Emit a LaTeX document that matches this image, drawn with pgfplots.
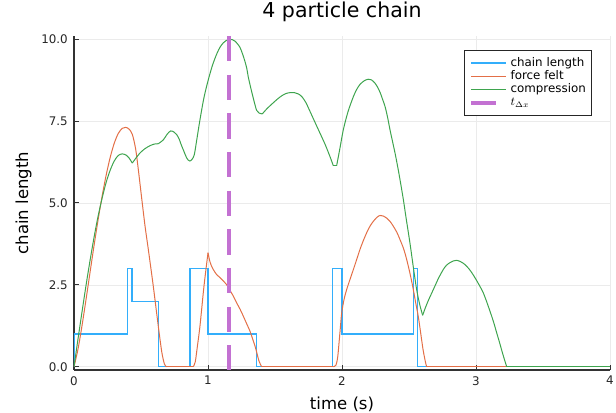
\documentclass[border=0pt]{standalone}
\usepackage{fontspec}
\setmainfont{DejaVu Sans}
\usepackage{pgfplots}
\pgfplotsset{compat=1.18}
\usetikzlibrary{calc}
\definecolor{jblue}{HTML}{009AFA}
\definecolor{jorange}{HTML}{E36F47}
\definecolor{jgreen}{HTML}{3EA44E}
\definecolor{jpurple}{HTML}{C371D2}
\pgfplotsset{
  bstyle/.style={jblue!80, line width=1pt},
  ostyle/.style={jorange, line width=0.75pt},
  gstyle/.style={jgreen, line width=0.75pt},
  sm/.style={smooth, tension=0.5},
}
\begin{document}
\begin{tikzpicture}
\begin{axis}[
  scale only axis, width=402pt, height=250.5pt,
  xmin=0, xmax=4, ymin=-0.1, ymax=10.1,
  axis x line*=bottom, axis y line*=left,
  axis line style={-, black!80, line width=0.9pt},
  xtick={0,1,2,3,4}, xticklabels={0,1,2,3,4},
  ytick={0,2.5,5,7.5,10}, yticklabels={0.0,2.5,5.0,7.5,10.0},
  /pgf/number format/assume math mode=true,
  tick align=inside, major tick length=3.5pt,
  tick style={black!80, line width=0.75pt},
  grid=major, major grid style={black!8, line width=0.5pt},
  ticklabel style={font=\fontsize{8.9}{10}\selectfont, text=black!85},
  xticklabel style={inner sep=0pt, yshift=-4.5pt},
  yticklabel style={inner sep=0pt, xshift=-4.5pt},
  title={4 particle chain},
  title style={at={(axis description cs:0.5,1.03)}, anchor=base, inner sep=0pt, font=\fontsize{15.4}{18}\selectfont},
  xlabel={time (s)},
  xlabel style={at={(axis description cs:0.5,-0.1168)}, anchor=base, inner sep=0pt, font=\fontsize{12.4}{14}\selectfont},
  ylabel={chain length},
  ylabel style={at={(axis description cs:-0.0858,0.5)}, anchor=base, inner sep=0pt, font=\fontsize{12.4}{14}\selectfont},
  legend style={at={(0.966,0.958)}, anchor=north east, draw=black!85, line width=0.7pt, fill=white,
    font=\fontsize{8.9}{10}\selectfont, inner xsep=3.5pt, inner ysep=4.5pt,
    nodes={inner sep=0.6pt, text height=6.8pt, text depth=1.9pt},
    /tikz/every odd column/.append style={column sep=2.5pt}},
  legend cell align=left,
  legend image code/.code={\draw[#1] (0pt,0pt) -- (26pt,0pt);},
]
% ---------------- chain length
\addplot[bstyle] coordinates {
(0,0) (0,1) (0.398,1) (0.398,3) (0.433,3) (0.433,2) (0.632,2) (0.632,0)
(0.866,0) (0.866,3) (1.0,3) (1.0,1) (1.363,1) (1.363,0) (1.93,0) (1.93,3)
(2.0,3) (2.0,1) (2.532,1) (2.532,3) (2.565,3) (2.565,0) (2.65,0)
};
\addlegendentry{chain length}
% ---------------- force felt
\addplot[ostyle, sm] coordinates {
(0,0) (0.03,0.54) (0.06,1.26) (0.09,2.06) (0.12,2.89) (0.15,3.71) (0.18,4.49) (0.21,5.21)
(0.24,5.85) (0.27,6.39) (0.30,6.82) (0.33,7.12) (0.36,7.28) (0.385,7.31) (0.41,7.26) (0.435,7.1)
(0.46,6.65) (0.48,6.02) (0.505,5.15) (0.53,4.3) (0.554,3.6) (0.592,2.45) (0.629,1.24)
(0.655,0.45) (0.675,0.08) (0.69,0)
};
\addlegendentry{force felt}
\addplot[ostyle, forget plot] coordinates {(0.69,0) (0.89,0)};
\addplot[ostyle, sm, forget plot] coordinates {
(0.89,0) (0.905,0.15) (0.92,0.6) (0.94,1.24) (0.97,2.46) (1.0,3.48)
};
\addplot[ostyle, sm, forget plot] coordinates {
(1.0,3.48) (1.015,3.2) (1.035,3.0) (1.065,2.81) (1.09,2.72) (1.114,2.62) (1.14,2.5) (1.164,2.33)
(1.19,2.15) (1.214,1.95) (1.24,1.75) (1.264,1.54) (1.29,1.3) (1.313,1.09) (1.333,0.85)
(1.351,0.63) (1.366,0.4) (1.38,0.18) (1.40,0)
};
\addplot[ostyle, forget plot] coordinates {(1.40,0) (1.935,0)};
\addplot[ostyle, sm, forget plot] coordinates {
(1.935,0) (1.955,0.05) (1.968,0.3) (1.98,0.83) (1.99,1.3) (1.998,1.65) (2.015,2.05) (2.035,2.36)
(2.06,2.67) (2.085,2.97) (2.11,3.28) (2.134,3.58) (2.16,3.86) (2.184,4.09) (2.21,4.3) (2.234,4.44)
(2.26,4.56) (2.284,4.62) (2.31,4.6) (2.333,4.54) (2.36,4.43) (2.383,4.29) (2.41,4.1) (2.433,3.88)
(2.46,3.6) (2.483,3.27) (2.51,2.8) (2.532,2.36) (2.55,1.95) (2.569,1.54) (2.583,1.15) (2.594,0.83)
(2.605,0.52) (2.614,0.32) (2.625,0.1) (2.632,0)
};
\addplot[ostyle, forget plot] coordinates {(2.632,0) (4,0)};
% ---------------- compression
\addplot[gstyle, sm] coordinates {
(0,0) (0.03,0.85) (0.06,1.68) (0.09,2.49) (0.12,3.25) (0.15,3.96) (0.18,4.6) (0.21,5.15)
(0.24,5.63) (0.27,6.0) (0.30,6.28) (0.33,6.45) (0.36,6.5) (0.39,6.46) (0.41,6.38) (0.435,6.22)
};
\addlegendentry{compression}
\addplot[gstyle, sm, forget plot] coordinates {
(0.435,6.22) (0.46,6.36) (0.493,6.53) (0.53,6.66) (0.567,6.75) (0.6,6.8) (0.629,6.81)
};
\addplot[gstyle, sm, forget plot] coordinates {
(0.629,6.81) (0.667,6.93) (0.695,7.1) (0.721,7.2) (0.745,7.17) (0.766,7.09) (0.785,6.95)
(0.80,6.78) (0.82,6.58) (0.836,6.42) (0.85,6.32) (0.866,6.28)
};
\addplot[gstyle, sm, forget plot] coordinates {
(0.866,6.28) (0.882,6.34) (0.898,6.48) (0.915,6.9) (0.94,7.54) (0.97,8.22) (1.002,8.76)
(1.033,9.2) (1.065,9.55) (1.09,9.76) (1.114,9.89) (1.135,9.96) (1.159,10.0) (1.18,9.99) (1.203,9.94)
(1.22,9.86) (1.239,9.75) (1.258,9.55) (1.276,9.32) (1.29,9.1) (1.30,8.86) (1.32,8.5) (1.338,8.2)
(1.352,7.98) (1.363,7.83) (1.38,7.75) (1.405,7.72)
};
\addplot[gstyle, sm, forget plot] coordinates {
(1.405,7.72) (1.44,7.88) (1.487,8.06) (1.52,8.18) (1.549,8.27) (1.58,8.34) (1.612,8.37) (1.645,8.37)
(1.674,8.33) (1.70,8.25) (1.73,8.07) (1.761,7.8) (1.8,7.45) (1.836,7.13) (1.875,6.78) (1.910,6.42)
(1.935,6.14)
};
\addplot[gstyle, forget plot] coordinates {(1.935,6.14) (1.96,6.14)};
\addplot[gstyle, sm, forget plot] coordinates {
(1.96,6.14) (1.985,6.68) (2.01,7.24) (2.045,7.79) (2.085,8.25) (2.11,8.47) (2.134,8.62) (2.165,8.73)
(2.196,8.78) (2.22,8.76) (2.246,8.66) (2.265,8.54) (2.284,8.38) (2.3,8.2) (2.321,7.95) (2.34,7.62)
(2.358,7.24) (2.377,6.88) (2.396,6.52) (2.415,6.12) (2.433,5.71) (2.458,5.10) (2.478,4.55)
(2.507,3.78) (2.532,3.05) (2.557,2.36) (2.58,1.9) (2.602,1.57)
};
\addplot[gstyle, sm, forget plot] coordinates {
(2.602,1.57) (2.622,1.8) (2.644,2.02) (2.664,2.2) (2.682,2.36) (2.72,2.7) (2.756,2.97) (2.78,3.1)
(2.806,3.18) (2.83,3.23) (2.856,3.25) (2.88,3.22) (2.905,3.16) (2.93,3.07) (2.955,2.95) (2.98,2.8)
(3.005,2.63) (3.03,2.45) (3.055,2.25) (3.08,1.98) (3.104,1.70) (3.13,1.38) (3.154,1.04) (3.175,0.75)
(3.192,0.5) (3.21,0.25) (3.229,0)
};
\addplot[gstyle, forget plot] coordinates {(3.229,0) (4,0)};
% ---------------- t_dx
\addplot[jpurple, line width=3pt, dash pattern=on 19pt off 10pt, forget plot] coordinates {(1.16,10.1) (1.16,-0.1)};
\addlegendimage{legend image code/.code={\draw[jpurple, line width=3pt] (0pt,0pt) -- (19pt,0pt);}}
\addlegendentry{$t_{\Delta x}$}
\end{axis}
\pgfresetboundingbox
\path[use as bounding box] ($(current axis.south west)+(-55.5pt,-32.25pt)$) rectangle ($(current axis.north east)+(4.5pt,27pt)$);
\end{tikzpicture}
\end{document}
